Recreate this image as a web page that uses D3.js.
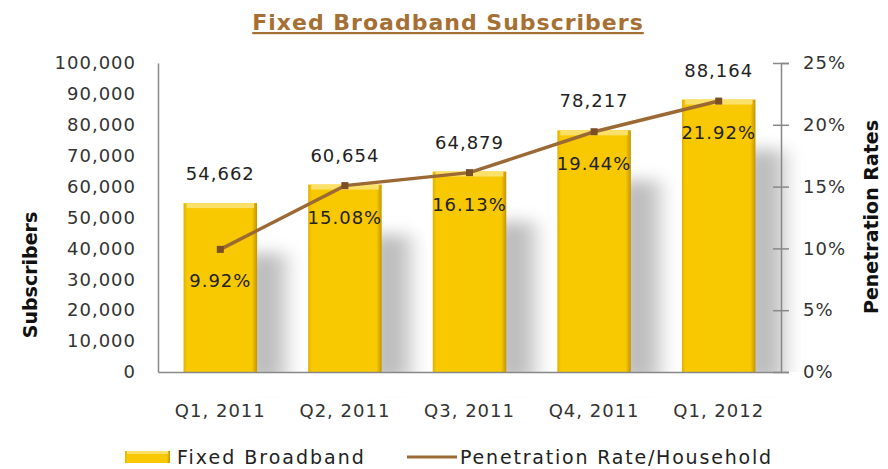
<!DOCTYPE html>
<html lang="en">
<head>
<meta charset="UTF-8">
<title>Fixed Broadband Subscribers</title>
<script src="https://d3js.org/d3.v7.min.js"></script>
<style>
    body { margin: 0; background: #fff; }
    text { font-family: "DejaVu Sans", sans-serif; fill: #222; }
    .tick text { font-size: 18px; fill: #333; letter-spacing: 1px; }
</style>
</head>
<body>
<svg id="chart" width="888" height="469"></svg>
<script>
    // chart data
    const quarters = ["Q1, 2011", "Q2, 2011", "Q3, 2011", "Q4, 2011", "Q1, 2012"];
    const subscribers = [54662, 60654, 64879, 78217, 88164];
    const penetration = [9.92, 15.08, 16.13, 19.44, 21.92];
    const leftTicks = [0, 10000, 20000, 30000, 40000, 50000, 60000, 70000, 80000, 90000, 100000];
    const rightTicks = [0, 5, 10, 15, 20, 25];

    const svg = d3.select("#chart");
    const plotL = 158, plotR = 781, plotT = 63, plotB = 372;

    const x = d3.scaleBand().domain(quarters).range([plotL, plotR]).paddingInner(0.41).paddingOuter(0.205);
    const xc = d3.scalePoint().domain(quarters).range([plotL, plotR]).padding(0.5);
    const yL = d3.scaleLinear().domain([0, 100000]).range([plotB, plotT]);
    const yR = d3.scaleLinear().domain([0, 25]).range([plotB, plotT]);

    const defs = svg.append("defs");
    const sg = defs.append("linearGradient").attr("id", "shadowGrad");
    sg.append("stop").attr("offset", "0%").attr("stop-color", "#b4b4b4");
    sg.append("stop").attr("offset", "60%").attr("stop-color", "#c6c6c6");
    sg.append("stop").attr("offset", "100%").attr("stop-color", "#ffffff").attr("stop-opacity", 0);
    defs.append("filter").attr("id", "blur").attr("x", "-50%").attr("y", "-20%").attr("width", "200%").attr("height", "140%")
        .append("feGaussianBlur").attr("stdDeviation", 8);
    const bg = defs.append("linearGradient").attr("id", "barGrad");
    bg.append("stop").attr("offset", "0%").attr("stop-color", "#e3b200");
    bg.append("stop").attr("offset", "5%").attr("stop-color", "#f8c800");
    bg.append("stop").attr("offset", "93%").attr("stop-color", "#f8c800");
    bg.append("stop").attr("offset", "100%").attr("stop-color", "#c49500");

    // title
    svg.append("text").attr("x", 448).attr("y", 30).attr("text-anchor", "middle")
        .style("font-size", "22px").style("font-weight", "bold").style("fill", "#a66f33")
        .style("letter-spacing", "1px").style("text-decoration", "underline")
        .text("Fixed Broadband Subscribers");

    // bar shadows
    svg.append("g").selectAll("rect").data(subscribers).join("rect")
        .attr("x", (d, i) => x(quarters[i]) + x.bandwidth() - 8)
        .attr("y", d => yL(d) + 50)
        .attr("width", 52)
        .attr("height", d => plotB - yL(d) - 40)
        .attr("fill", "url(#shadowGrad)")
        .attr("filter", "url(#blur)");
    // keep the blur from spilling under the baseline
    svg.append("rect").attr("x", plotL).attr("y", plotB).attr("width", plotR - plotL + 40).attr("height", 24).attr("fill", "#fff");

    // bars
    const bars = svg.append("g");
    bars.selectAll("rect.bar").data(subscribers).join("rect").attr("class", "bar")
        .attr("x", (d, i) => x(quarters[i]))
        .attr("y", d => yL(d))
        .attr("width", x.bandwidth())
        .attr("height", d => plotB - yL(d))
        .attr("fill", "url(#barGrad)");
    bars.selectAll("rect.hl").data(subscribers).join("rect").attr("class", "hl")
        .attr("x", (d, i) => x(quarters[i]) + 3)
        .attr("y", d => yL(d))
        .attr("width", x.bandwidth() - 6)
        .attr("height", 5)
        .attr("fill", "#fbe06a");

    // axes
    const axL = svg.append("g").attr("transform", `translate(${plotL},0)`)
        .call(d3.axisLeft(yL).tickValues(leftTicks).tickSize(0).tickPadding(22).tickFormat(d3.format(",")));
    axL.select(".domain").attr("stroke", "#888").attr("stroke-width", 1.5);

    const axR = svg.append("g").attr("transform", `translate(${plotR},0)`)
        .call(d3.axisRight(yR).tickValues(rightTicks).tickSize(8).tickPadding(14).tickFormat(d => d + "%"));
    axR.select(".domain").attr("stroke", "#888").attr("stroke-width", 1.5);
    axR.selectAll(".tick line").attr("x1", -8).attr("stroke", "#888").attr("stroke-width", 1.5);

    const axB = svg.append("g").attr("transform", `translate(0,${plotB})`)
        .call(d3.axisBottom(x).tickSize(0).tickPadding(32));
    axB.select(".domain").attr("stroke", "#888").attr("stroke-width", 1.5);

    // axis titles
    svg.append("text").attr("transform", "translate(30,275) rotate(-90)").attr("text-anchor", "middle")
        .attr("dy", "0.35em")
        .style("font-size", "19px").style("font-weight", "bold").style("fill", "#111").text("Subscribers");
    svg.append("text").attr("transform", "translate(871,217) rotate(-90)").attr("text-anchor", "middle")
        .attr("dy", "0.35em")
        .style("font-size", "19px").style("font-weight", "bold").style("fill", "#111").text("Penetration Rates");

    // line
    const line = d3.line().x((d, i) => xc(quarters[i])).y(d => yR(d));
    svg.append("path").datum(penetration).attr("d", line)
        .attr("fill", "none").attr("stroke", "#9b6a34").attr("stroke-width", 3.5);
    svg.append("g").selectAll("rect").data(penetration).join("rect")
        .attr("x", (d, i) => xc(quarters[i]) - 3.5)
        .attr("y", d => yR(d) - 3.5)
        .attr("width", 7).attr("height", 7)
        .attr("fill", "#7a4f28");

    // data labels
    svg.append("g").selectAll("text").data(subscribers).join("text")
        .attr("x", (d, i) => xc(quarters[i]))
        .attr("y", d => yL(d) - 23)
        .attr("text-anchor", "middle")
        .style("font-size", "18px").style("letter-spacing", "1px").style("fill", "#222")
        .text(d => d3.format(",")(d));
    svg.append("g").selectAll("text").data(penetration).join("text")
        .attr("x", (d, i) => xc(quarters[i]))
        .attr("y", d => yR(d) + 38)
        .attr("text-anchor", "middle")
        .style("font-size", "18px").style("letter-spacing", "1px").style("fill", "#222")
        .text(d => d.toFixed(2) + "%");

    // legend
    const lg = svg.append("g").attr("transform", "translate(0,457)");
    lg.append("rect").attr("x", 125).attr("y", -6).attr("width", 45).attr("height", 12).attr("fill", "url(#barGrad)");
    lg.append("rect").attr("x", 127).attr("y", -6).attr("width", 41).attr("height", 3).attr("fill", "#fbe06a");
    lg.append("text").attr("x", 177).attr("dy", "0.35em").style("font-size", "19px").style("letter-spacing", "2px").text("Fixed Broadband");
    lg.append("line").attr("x1", 407).attr("x2", 457).attr("stroke", "#9b6a34").attr("stroke-width", 3);
    lg.append("text").attr("x", 460).attr("dy", "0.35em").style("font-size", "19px").style("letter-spacing", "1.8px").text("Penetration Rate/Household");
</script>
</body>
</html>
